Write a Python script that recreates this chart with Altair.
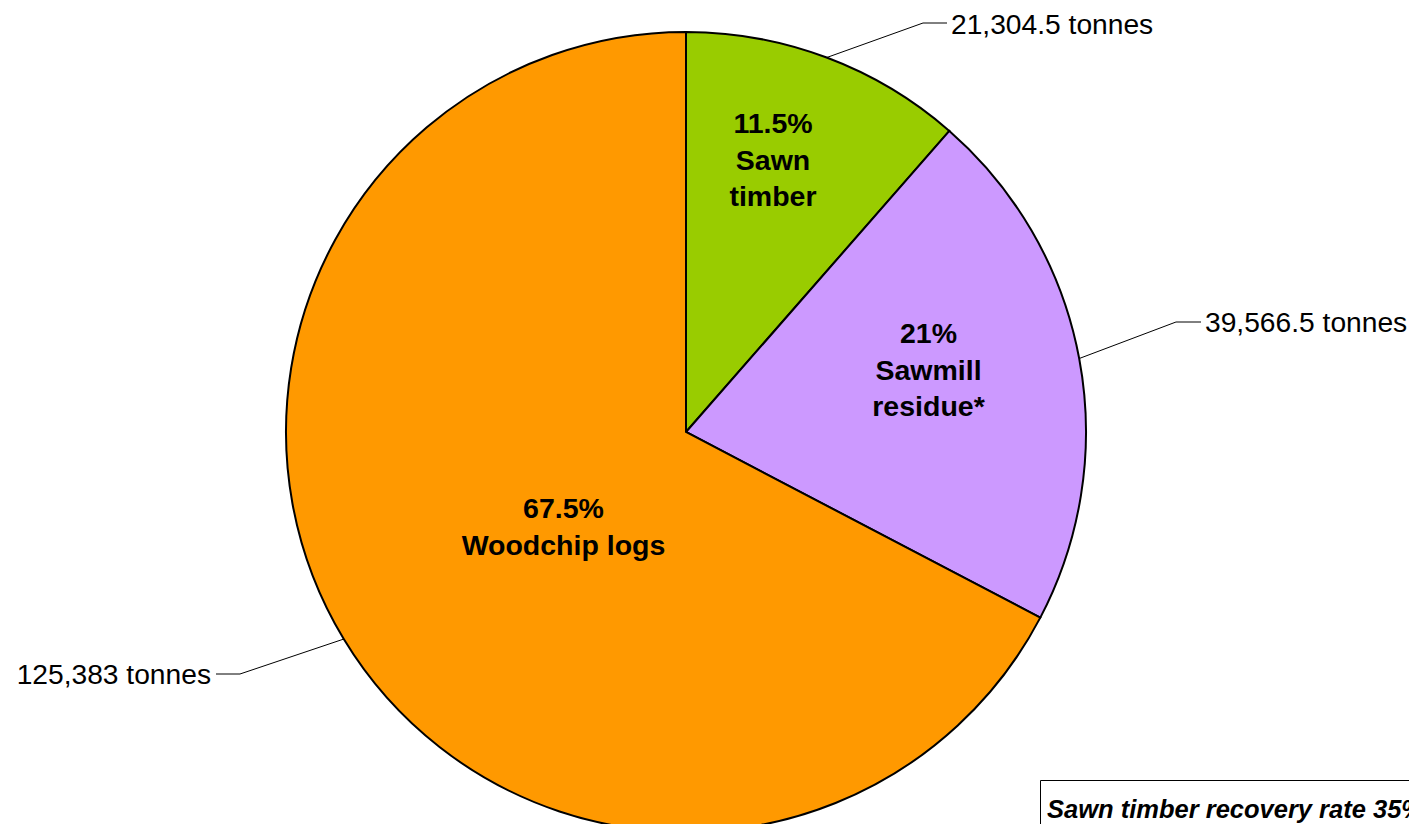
import altair as alt
import pandas as pd
import numpy as np

# ---- data ----
parts = ["Sawn timber", "Sawmill residue*", "Woodchip logs"]
tonnes = [21304.5, 39566.5, 125383]
pct_labels = ["11.5%", "21%", "67.5%"]
inner_names = ["Sawn\ntimber", "Sawmill\nresidue*", "Woodchip logs"]
colors = ["#99CC00", "#CC99FF", "#FF9900"]
note = "Sawn timber recovery rate 35%"

# ---- layout (pixels) ----
W, H = 1401, 816
CX, CY, R = 678, 424, 400
FONT = "Liberation Sans"
inner_pos = [(765, 125), (920.5, 335), (555.5, 510)]
elbow = [(915, 15), (1168, 314), (232, 666)]
leader_end = [(939, 15), (1193, 314), (208, 666)]
outer_pos = [(943, 25.5), (1197, 324), (203, 676)]
outer_align = ["left", "left", "right"]


def fmt(v):
    return f"{int(v):,}" if float(v).is_integer() else f"{v:,}"


df = pd.DataFrame({"part": parts, "tonnes": tonnes, "idx": range(len(parts))})

t = np.array(tonnes, dtype=float)
total = t.sum()
mid = (np.cumsum(t) - t / 2) / total * 2 * np.pi
sx = CX + R * np.sin(mid)
sy = CY - R * np.cos(mid)

lead = pd.DataFrame({
    "sx": sx, "sy": sy,
    "ex": [p[0] for p in elbow], "ey": [p[1] for p in elbow],
    "fx": [p[0] for p in leader_end], "fy": [p[1] for p in leader_end],
})

inner = pd.DataFrame({
    "label": [f"{p}\n{n}" for p, n in zip(pct_labels, inner_names)],
    "x": [p[0] for p in inner_pos], "y": [p[1] for p in inner_pos],
})

outer = pd.DataFrame({
    "label": [f"{fmt(v)} tonnes" for v in tonnes],
    "x": [p[0] for p in outer_pos], "y": [p[1] for p in outer_pos],
    "align": outer_align,
})

pie = alt.Chart(df).mark_arc(radius=R, stroke="black", strokeWidth=2).encode(
    theta=alt.Theta("tonnes:Q", stack=True),
    color=alt.Color("part:N", scale=alt.Scale(domain=parts, range=colors), legend=None),
    order=alt.Order("idx:Q", sort="ascending"),
    x=alt.value(CX),
    y=alt.value(CY),
)

rule1 = alt.Chart(lead).mark_rule(color="black", strokeWidth=1).encode(
    x=alt.X("sx:Q", scale=None, axis=None),
    y=alt.Y("sy:Q", scale=None, axis=None),
    x2="ex:Q", y2="ey:Q",
)
rule2 = alt.Chart(lead).mark_rule(color="black", strokeWidth=1).encode(
    x=alt.X("ex:Q", scale=None, axis=None),
    y=alt.Y("ey:Q", scale=None, axis=None),
    x2="fx:Q", y2="fy:Q",
)

inner_text = alt.Chart(inner).mark_text(
    font=FONT, fontSize=28.5, fontWeight="bold", color="black",
    align="center", baseline="alphabetic", lineBreak="\n", lineHeight=36.5,
).encode(
    x=alt.X("x:Q", scale=None, axis=None),
    y=alt.Y("y:Q", scale=None, axis=None),
    text="label:N",
)

outer_left = alt.Chart(outer[outer["align"] == "left"]).mark_text(
    font=FONT, fontSize=28.2, color="black", align="left", baseline="alphabetic",
).encode(
    x=alt.X("x:Q", scale=None, axis=None),
    y=alt.Y("y:Q", scale=None, axis=None),
    text="label:N",
)
outer_right = alt.Chart(outer[outer["align"] == "right"]).mark_text(
    font=FONT, fontSize=28.2, color="black", align="right", baseline="alphabetic",
).encode(
    x=alt.X("x:Q", scale=None, axis=None),
    y=alt.Y("y:Q", scale=None, axis=None),
    text="label:N",
)

note_df = pd.DataFrame({"note": [note]})
box = alt.Chart(note_df).mark_rect(fill="white", stroke="black", strokeWidth=1).encode(
    x=alt.value(1032.5), x2=alt.value(1600),
    y=alt.value(772.5), y2=alt.value(950),
)
note_text = alt.Chart(note_df).mark_text(
    font=FONT, fontSize=25.5, fontWeight="bold", fontStyle="italic", color="black",
    align="left", baseline="alphabetic",
).encode(
    x=alt.value(1039), y=alt.value(810), text="note:N",
)

chart = alt.layer(
    pie, rule1, rule2, inner_text, outer_left, outer_right, box, note_text
).properties(
    width=W, height=H, padding=0,
    autosize=alt.AutoSizeParams(type="none"),
    background="white",
).configure_view(stroke=None)

chart.save("out.html", embed_options={"renderer": "svg", "actions": False})
